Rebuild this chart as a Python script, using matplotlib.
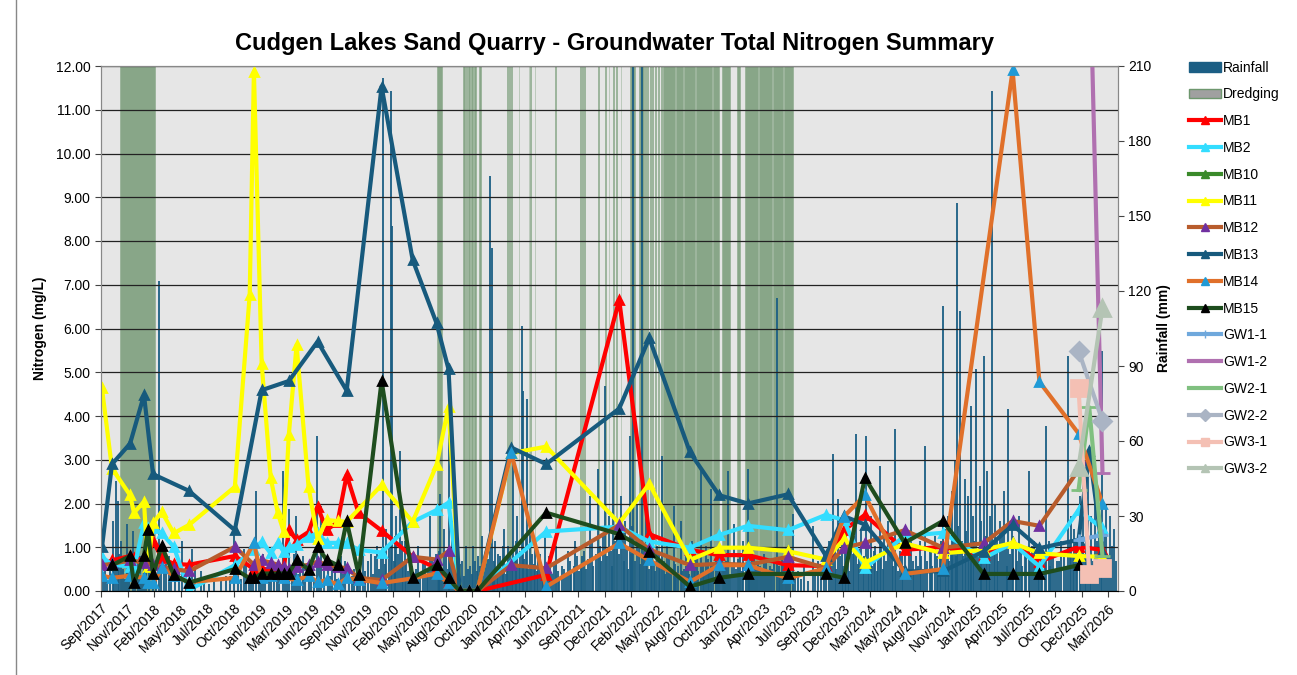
import numpy as np
import pandas as pd
import matplotlib
matplotlib.use('Agg')
import matplotlib.pyplot as plt
from matplotlib.lines import Line2D
from matplotlib.patches import Patch

plt.rcParams['font.family'] = ['Liberation Sans', 'DejaVu Sans']

NA = np.nan

#Fechas de muestreo
sample_dates = ['2017-09-04', '2017-10-05', '2017-11-30', '2017-12-12', '2018-01-12',
                '2018-01-24', '2018-02-09', '2018-03-08', '2018-04-14', '2018-05-31',
                '2018-10-20', '2018-12-05', '2018-12-18', '2019-01-11', '2019-02-08',
                '2019-03-02', '2019-03-20', '2019-04-05', '2019-04-29', '2019-06-05',
                '2019-07-03', '2019-07-31', '2019-09-03', '2019-10-01', '2019-11-07',
                '2020-01-17', '2020-04-22', '2020-07-05', '2020-08-11', '2020-09-14',
                '2020-10-12', '2020-11-08', '2021-02-21', '2021-06-09', '2022-01-21',
                '2022-04-24', '2022-08-28', '2022-11-26', '2023-02-23', '2023-06-27',
                '2023-10-22', '2023-12-17', '2024-02-20', '2024-06-22', '2024-10-18',
                '2025-02-21', '2025-05-22', '2025-08-13', '2025-12-12', '2026-01-14',
                '2026-02-24']

#Nitrogeno total (mg/L) por pozo
mb1 = [0.6, 0.7, 0.8, 0.75, 0.7, 0.8, 1.15, 0.75, 0.62, 0.6,
       0.8, NA, 0.5, 0.5, 0.5, 0.55, 0.5, 1.39, 1.17, 1.35,
       1.93, 1.39, 1.58, 2.65, 1.78, 1.38, 0.78, 0.52, 0.21, 0.0,
       0.0, 0.0, NA, 0.37, 6.65, 1.3, 0.94, 0.82, 0.82, 0.59,
       0.57, 1.39, 1.74, 0.94, 1.01, 0.82, 1.09, 0.67, 1.01, NA, 0.94]
mb2 = [0.78, 0.6, 0.56, 0.5, 1.55, 1.45, 1.44, 1.32, 1.01, 0.02,
       0.59, NA, 0.94, 1.13, 0.86, 1.1, 0.9, 1.0, 1.05, 1.24,
       1.32, 1.1, 1.1, 1.09, 0.94, 0.88, 1.58, 1.85, 2.02, 0.0,
       0.0, 0.0, NA, 1.36, 1.47, 1.13, 0.99, 1.28, 1.49, 1.39,
       1.74, 1.62, 0.52, 1.26, 1.33, 0.75, 1.09, 0.56, 1.85, NA, 1.43]
mb10 = [NA] * 51
mb11 = [4.63, 2.8, 2.19, 1.79, 2.04, 0.56, 1.55, 1.81, 1.32, 1.51,
        2.38, 6.77, 11.87, 5.2, 2.58, 1.78, 1.36, 3.57, 5.62, 2.38,
        1.2, 1.62, 1.6, 1.58, NA, 2.42, 1.58, 2.88, 4.21, 0.0,
        0.0, 0.0, 3.15, 3.3, 1.55, 2.45, 0.71, 0.99, 0.99, 0.91,
        0.72, 1.18, 0.65, 1.09, 0.86, 0.94, 1.1, 0.86, 0.8, NA, 0.78]
mb12 = [0.59, 0.62, 0.7, NA, 0.65, NA, 0.6, 0.55, 0.5, 0.45,
        1.01, NA, 0.6, 0.7, 0.65, 0.6, 0.55, 0.5, 0.55, 0.6,
        0.67, 0.6, 0.55, 0.52, 0.3, 0.25, 0.78, 0.72, 0.91, 0.0,
        0.0, 0.0, 0.59, 0.52, 1.51, 0.95, 0.59, 0.62, 0.6, 0.78,
        0.52, 0.99, 1.1, 1.39, 0.99, 1.09, 1.6, 1.49, 2.77, 3.0, NA]
mb13 = [1.0, 2.9, 3.37, NA, 4.48, NA, 2.67, NA, NA, 2.29,
        1.39, NA, NA, 4.59, NA, NA, NA, 4.8, NA, NA,
        5.7, NA, NA, 4.58, NA, 11.53, 7.57, 6.12, 5.07, 0.0,
        0.0, 0.0, 3.28, 2.9, 4.17, 5.78, 3.17, 2.19, 2.0, 2.21,
        0.81, 1.71, 1.52, 0.45, 0.45, 0.9, 1.51, 0.98, 1.17, 3.2, 0.9]
mb14 = [0.35, 0.3, 0.35, NA, 0.3, 0.18, 0.18, 0.52, 0.35, 0.2,
        0.3, NA, 1.1, 0.3, 0.35, NA, 0.3, NA, 0.25, 0.35,
        0.2, 0.25, 0.15, 0.29, 0.26, 0.18, 0.29, 0.4, 0.18, 0.0,
        0.0, 0.0, 3.15, 0.1, 1.09, 0.7, 0.21, 0.59, 0.59, 0.29,
        0.52, 1.7, 2.19, 0.39, 0.5, NA, 11.9, 4.78, 3.6, NA, 1.99]
mb15 = [NA, 0.59, 0.8, 0.18, 0.8, 1.39, 0.39, 1.03, 0.37, 0.19,
        0.5, 0.29, 0.29, 0.4, 0.4, 0.4, 0.4, 0.4, 0.71, 0.49,
        1.01, 0.71, 0.59, 1.6, 0.37, 4.8, 0.3, 0.59, 0.29, 0.0,
        0.0, 0.0, NA, 1.79, 1.3, 0.9, 0.1, 0.3, 0.39, 0.39,
        0.39, 0.3, 2.59, 1.1, 1.6, 0.39, 0.39, 0.39, 0.59, NA, NA]

#Pozos GW (solo ultimas tres campañas)
gw_dates = sample_dates[-3:]
gw1_1 = [1.17, NA, 1.28]
gw1_2 = [24.7, NA, 2.7]
gw2_1 = [2.31, 4.2, 0.8]
gw2_2 = [5.49, NA, 3.89]
gw3_1 = [4.63, 0.4, 0.52]
gw3_2 = [2.84, NA, 6.47]

#Lluvia diaria: dias desde 2017-09-01 y mm (eventos grandes)
start = pd.Timestamp('2017-09-01')
rain_day = [36, 46, 52, 62, 80, 98, 114, 133, 178, 195, 210, 252, 283, 309, 386, 412, 442,
            463, 481, 500, 519, 544, 564, 582, 602, 624, 642, 667, 680, 701, 723, 741, 766,
            791, 812, 834, 855, 873, 883, 896, 901, 914, 924, 939, 957, 982, 1001, 1019,
            1035, 1050, 1062, 1076, 1087, 1100, 1118, 1130, 1143, 1152, 1167, 1180, 1192,
            1204, 1208, 1220, 1235, 1248, 1260, 1276, 1288, 1302, 1305, 1318, 1328, 1344,
            1359, 1374, 1390, 1408, 1427, 1445, 1467, 1489, 1513, 1538, 1560, 1572, 1585,
            1597, 1609, 1621, 1635, 1647, 1659, 1675, 1686, 1705, 1720, 1735, 1751, 1771,
            1793, 1810, 1828, 1844, 1856, 1872, 1886, 1902, 1921, 1940, 1959, 1977, 1987,
            2000, 2014, 2032, 2051, 2069, 2090, 2106, 2125, 2141, 2156, 2174, 2201, 2218,
            2236, 2252, 2265, 2280, 2292, 2304, 2319, 2337, 2350, 2368, 2381, 2394, 2409,
            2421, 2434, 2446, 2455, 2471, 2486, 2507, 2520, 2533, 2548, 2563, 2579, 2594,
            2605, 2619, 2631, 2641, 2648, 2658, 2672, 2681, 2692, 2699, 2708, 2718, 2733,
            2742, 2757, 2767, 2780, 2792, 2805, 2817, 2829, 2841, 2857, 2870, 2885, 2903,
            2924, 2940, 2956, 2971, 2991, 3002, 3011, 3027, 3039, 3052, 3064, 3076, 3088,
            3098, 3110, 3122, 3135]
rain_mm = [28, 44, 36, 20, 27, 24, 12, 16, 124, 10, 14, 20, 17, 8, 6, 23, 17,
           10, 40, 15, 12, 10, 48, 33, 30, 14, 10, 62, 34, 12, 9, 14, 10,
           8, 22, 15, 18, 205, 25, 200, 146, 30, 56, 20, 14, 18, 12, 30,
           15, 39, 25, 68, 28, 20, 12, 18, 10, 18, 14, 22, 16,
           166, 137, 20, 14, 25, 18, 56, 30, 106, 80, 77, 28, 20,
           15, 22, 12, 18, 10, 16, 20, 14, 38, 49, 82, 30, 52,
           25, 38, 28, 62, 240, 35, 240, 30, 22, 18, 54, 20, 34,
           28, 15, 20, 14, 48, 18, 41, 12, 16, 48, 27, 14, 20,
           49, 16, 12, 15, 10, 117, 14, 18, 31, 8, 10, 26, 12,
           16, 20, 55, 37, 22, 28, 20, 63, 25, 62, 30, 18, 50,
           22, 28, 20, 65, 16, 24, 34, 14, 20, 58, 16, 22, 18,
           114, 30, 40, 52, 155, 112, 45, 38, 74, 30, 89, 42, 94,
           48, 200, 35, 28, 40, 73, 25, 18, 30, 16, 48, 20, 14,
           66, 15, 12, 20, 94, 30, 25, 38, 55, 57, 30, 40, 28,
           96, 35, 30, 25]

#Lluvias menores (dias desde 2017-09-01 y mm)
small_day = [5, 12, 20, 27, 40, 57, 68, 75, 88, 105, 120, 126, 140, 150, 160, 170, 186,
             200, 218, 230, 240, 262, 275, 292, 318, 335, 350, 372, 398,
             425, 433, 450, 458, 470, 488, 495, 508, 527, 535, 552, 570, 575, 590, 596,
             610, 615, 630, 650, 660, 675, 690, 708, 715, 730, 748, 755, 775, 782,
             795, 802, 818, 825, 840, 848, 860, 866, 878, 890, 905, 908, 918, 930, 935,
             945, 950, 962, 968, 975, 988, 995, 1008, 1013, 1025, 1030, 1042, 1045, 1055,
             1068, 1072, 1081, 1093, 1096, 1106, 1112, 1124, 1135, 1148, 1158, 1162,
             1172, 1185, 1198,
             1212, 1216, 1225, 1229, 1240, 1244, 1252, 1256, 1265, 1270, 1281, 1284,
             1293, 1297, 1310, 1314, 1322, 1333, 1338, 1348, 1352, 1364, 1368, 1380,
             1385, 1396, 1400, 1414, 1418, 1432, 1438, 1450, 1455, 1462, 1472, 1478,
             1484, 1494, 1500, 1506, 1518, 1522, 1530, 1543, 1548, 1553, 1565, 1577,
             1581, 1590, 1602, 1614, 1618, 1626, 1630, 1640, 1644, 1652, 1664, 1668,
             1680, 1690, 1694, 1700, 1710, 1714, 1725, 1730, 1742, 1746, 1757, 1762,
             1776, 1780, 1786, 1798,
             1803, 1815, 1820, 1833, 1838, 1848, 1862, 1866, 1878, 1882, 1893, 1908,
             1914, 1927, 1932, 1946, 1952, 1964, 1970, 1982, 1995, 2005, 2009, 2020,
             2025, 2040, 2046, 2058, 2063, 2075, 2083, 2097, 2101, 2112, 2118, 2132,
             2148, 2165, 2188, 2210, 2228, 2244,
             2258, 2270, 2275, 2285, 2296, 2300, 2310, 2314, 2325, 2330, 2342, 2345,
             2356, 2361, 2372, 2376, 2386, 2390, 2400, 2404, 2414, 2418, 2428, 2440,
             2450, 2460, 2466, 2478, 2482, 2492, 2498, 2512, 2516, 2526, 2538, 2542,
             2555, 2568, 2572, 2585, 2590, 2599, 2610, 2614, 2624, 2628, 2636, 2644,
             2652, 2662, 2666, 2676, 2686, 2690, 2702, 2712, 2722, 2726, 2738, 2746,
             2750, 2762, 2772, 2776, 2786, 2798, 2802, 2812, 2822, 2834, 2846, 2850,
             2862, 2875, 2880, 2892, 2897, 2908, 2912, 2920, 2932, 2936, 2946, 2952,
             2964, 2978, 2984, 2996, 3006, 3016, 3020, 3032, 3044, 3048, 3058, 3070,
             3082, 3092, 3104, 3116, 3128, 3140]
small_mm = [6, 10, 4, 12, 8, 15, 9, 5, 11, 7, 14, 6, 10, 8, 12, 5, 9,
            11, 6, 8, 13, 7, 5, 9, 4, 3, 5, 4, 6,
            8, 5, 12, 6, 9, 7, 14, 5, 10, 6, 8, 12, 5, 9, 15,
            7, 11, 6, 9, 5, 12, 8, 6, 10, 5, 7, 12, 6, 9,
            6, 10, 8, 12, 7, 14, 9, 16, 11, 18, 12, 22, 15, 20, 10,
            13, 8, 10, 6, 9, 7, 11, 6, 9, 12, 7, 10, 16, 8,
            14, 9, 12, 10, 15, 8, 11, 6, 9, 7, 12, 8,
            10, 9, 13,
            8, 12, 6, 15, 9, 18, 7, 11, 14, 9, 12, 20,
            10, 16, 13, 22, 9, 15, 11, 8, 13, 10, 6, 9,
            14, 7, 11, 8, 5, 9, 6, 12, 7, 10, 14, 8,
            11, 16, 9, 13, 20, 10, 15, 18, 12, 22, 14, 16,
            10, 20, 15, 24, 12, 18, 9, 15, 26, 12, 20, 11,
            16, 14, 9, 18, 12, 8, 15, 10, 12, 7, 14, 9,
            11, 6, 10, 8,
            9, 12, 7, 10, 14, 8, 11, 7, 13, 9, 10, 8,
            14, 9, 12, 7, 11, 9, 13, 8, 10, 12, 7, 14,
            9, 10, 7, 12, 8, 9, 13, 10, 7, 11, 8, 9,
            6, 5, 4, 6, 8, 10,
            12, 18, 9, 14, 10, 16, 12, 8, 15, 22, 11, 17,
            9, 14, 20, 12, 10, 16, 8, 13, 18, 9, 12, 15,
            10, 12, 8, 14, 10, 9, 16, 12, 8, 10, 14, 9,
            12, 18, 10, 14, 9, 20, 15, 25, 12, 18, 22, 14,
            26, 20, 14, 24, 18, 12, 20, 16, 28, 14, 22, 18,
            30, 16, 20, 12, 24, 18, 10, 15, 22, 12, 16, 10,
            14, 12, 18, 10, 8, 14, 9, 12, 20, 10, 14, 8,
            12, 16, 10, 20, 14, 18, 10, 22, 15, 26, 18, 12,
            20, 16, 24, 14, 18, 12]

#Periodos de dragado: dias desde 2017-09-01
dredge_start = [60, 1040, 1120, 1128, 1136, 1146, 1155, 1170, 1256, 1262, 1268, 1292,
                1323, 1328, 1341, 1405, 1482, 1489, 1495, 1536, 1560, 1570, 1585, 1594,
                1608, 1637, 1663, 1683, 1690, 1699, 1706, 1714, 1724, 1732, 1740, 1779,
                1804, 1842, 1894, 1920, 1966, 1992, 2034, 2079, 2114]
dredge_end = [165, 1055, 1124, 1132, 1140, 1150, 1160, 1173, 1258, 1264, 1270, 1293,
              1324, 1330, 1342, 1406, 1484, 1491, 1497, 1538, 1562, 1571, 1586, 1595,
              1609, 1652, 1678, 1685, 1692, 1701, 1708, 1716, 1726, 1734, 1775, 1800,
              1838, 1889, 1910, 1946, 1977, 2030, 2075, 2110, 2139]

#Figura
fig = plt.figure(figsize=(12.97, 6.75), dpi=100)
ax = fig.add_axes([101 / 1297, 84 / 675, 1017 / 1297, 525 / 675])
ax2 = ax.twinx()
ax.set_zorder(2)
ax2.set_zorder(1)
ax.patch.set_visible(False)
ax2.patch.set_visible(True)
ax2.patch.set_facecolor('#e6e6e6')

#Dragado y lluvia en el eje secundario
d0 = start + pd.to_timedelta(dredge_start, unit='D')
dw = np.array(dredge_end) - np.array(dredge_start) + 1
ax2.bar(d0, 210, width=dw, align='edge', color='#4f7f4f', alpha=0.62,
        edgecolor='#6e976e', linewidth=0.4)
rain_dates = start + pd.to_timedelta(rain_day, unit='D')
small_dates = start + pd.to_timedelta(small_day, unit='D')
ax2.vlines(small_dates, 0, small_mm, color='#1b5e84', linewidth=1.3)
ax2.vlines(rain_dates, 0, rain_mm, color='#1b5e84', linewidth=1.3)
ax2.set_ylim(0, 210)
ax2.set_yticks(np.arange(0, 211, 30))
ax2.set_ylabel('Rainfall (mm)', fontsize=10, fontweight='bold')

#Series de nitrogeno
sd = pd.to_datetime(sample_dates)
gd = pd.to_datetime(gw_dates)
series = [
    ('MB1', sd, mb1, '#ff0000', '^', '#ff0000', 6),
    ('MB2', sd, mb2, '#33ddff', '^', '#33ddff', 6),
    ('MB10', sd, mb10, '#3a8a2a', '^', '#3a8a2a', 6),
    ('MB11', sd, mb11, '#ffff00', '^', '#ffff00', 6),
    ('MB12', sd, mb12, '#b85c2c', '^', '#7030a0', 6),
    ('MB13', sd, mb13, '#175a7d', '^', '#175a7d', 6),
    ('MB14', sd, mb14, '#e0702a', '^', '#1f9ad6', 6),
    ('MB15', sd, mb15, '#1e4d1e', '^', '#000000', 6),
    ('GW1-1', gd, gw1_1, '#6fa8dc', '+', '#6fa8dc', 9),
    ('GW1-2', gd, gw1_2, '#b070b0', '_', '#b070b0', 12),
    ('GW2-1', gd, gw2_1, '#80c080', '_', '#80c080', 12),
    ('GW2-2', gd, gw2_2, '#aab4c4', 'D', '#aab4c4', 9),
    ('GW3-1', gd, gw3_1, '#f4c0b4', 's', '#f4c0b4', 12),
    ('GW3-2', gd, gw3_2, '#b4c4b4', '^', '#b4c4b4', 12),
]
handles = [Patch(facecolor='#1b5e84', edgecolor='#1b5e84', label='Rainfall'),
           Patch(facecolor='#a0a0a0', edgecolor='#6e976e', label='Dredging')]
for name, dates, vals, col, mk, mcol, ms in series:
    s = pd.Series(vals, index=dates).dropna()
    ax.plot(s.index, s.values, color=col, linewidth=3, marker=mk, markersize=ms,
            markerfacecolor=mcol, markeredgecolor=mcol, markeredgewidth=2)
    handles.append(Line2D([], [], color=col, linewidth=3, marker=mk, markersize=6,
                          markerfacecolor=mcol, markeredgecolor=mcol, label=name))

#Ejes
ax.set_ylim(0, 12)
ax.set_yticks(np.arange(0, 12.01, 1))
ax.set_yticklabels(['%.2f' % v for v in np.arange(0, 12.01, 1)])
ax.yaxis.grid(True, color='#222222', linewidth=0.9)
ax.set_ylabel('Nitrogen (mg/L)', fontsize=10, fontweight='bold', labelpad=6)
ticks = start + pd.to_timedelta(np.arange(0, 39) * 82, unit='D')
ax.set_xticks(ticks)
ax.set_xticklabels([t.strftime('%b/%Y') for t in ticks], rotation=45, ha='right',
                   rotation_mode='anchor')
ax.set_xlim(start, start + pd.Timedelta(days=3146))
for a in (ax, ax2):
    a.tick_params(labelsize=10, direction='out', length=4, color='#444444')
    for sp in a.spines.values():
        sp.set_color('#888888')
ax.spines['bottom'].set_color('#000000')

fig.text(0.474, 0.935, 'Cudgen Lakes Sand Quarry - Groundwater Total Nitrogen Summary',
         ha='center', va='center', fontsize=17, fontweight='bold')
fig.legend(handles=handles, loc='upper left', bbox_to_anchor=(1183 / 1297, 620 / 675),
           frameon=False, fontsize=10, labelspacing=0.92, handlelength=2.3,
           handletextpad=0.2, borderaxespad=0)
fig.add_artist(Line2D([16 / 1297, 16 / 1297], [0, 1], color='#888888', linewidth=1))

fig.savefig('out.png', dpi=100)
